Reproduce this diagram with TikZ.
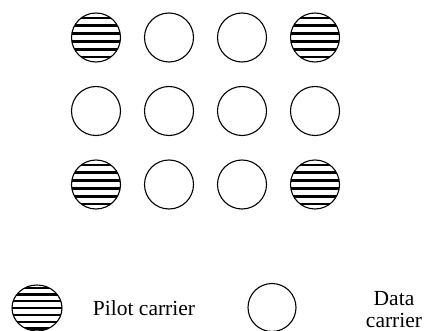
\documentclass[tikz,border=0pt]{standalone}
\usepackage{fontspec}
\setmainfont{Liberation Serif}
\usetikzlibrary{shapes.geometric}
\tikzset{
  carrier/.style={circle, draw, line width=1.1pt, inner sep=0pt, minimum size=49pt},
  hatchlines/.style={path picture={
      \foreach \d in {#1}
        \draw[line width=2.2pt]
          ([yshift=\d pt]path picture bounding box.west) --
          ([yshift=\d pt]path picture bounding box.east);}},
  pilot/.style={carrier, hatchlines={-19.5,-12,-4,4,12,19.5}},
  legendpilot/.style={ellipse, draw, line width=1.1pt, inner sep=0pt,
      minimum width=50pt, minimum height=46pt,
      hatchlines={-20.4,-13.6,-6.8,0,6.8,13.6,20.4}},
  label/.style={font=\fontsize{21.5}{23}\selectfont, inner sep=0pt}
}
\begin{document}
\begin{tikzpicture}[x=1pt, y=-1pt]
  \useasboundingbox (0,0) rectangle (425,331);
  % carrier grid: pilots in the four corners
  \node[pilot]   (c11) at (96,37.5)  {};
  \node[carrier] (c12) at (169,37.5) {};
  \node[carrier] (c13) at (242,37.5) {};
  \node[pilot]   (c14) at (315,37.5) {};
  \node[carrier] (c21) at (96,111)   {};
  \node[carrier] (c22) at (169,111)  {};
  \node[carrier] (c23) at (242,111)  {};
  \node[carrier] (c24) at (315,111)  {};
  \node[pilot]   (c31) at (96,184.5) {};
  \node[carrier] (c32) at (169,184.5){};
  \node[carrier] (c33) at (242,184.5){};
  \node[pilot]   (c34) at (315,184.5){};
  % legend
  \node[legendpilot] (lp) at (37,308) {};
  \node[label, anchor=base] (lpt) at (144,315) {Pilot carrier};
  \node[carrier, minimum size=48pt] (ld) at (272,307.5) {};
  \node[label, anchor=base] (ldt1) at (394,305) {Data};
  \node[label, anchor=base] (ldt2) at (394,327) {carrier};
\end{tikzpicture}
\end{document}
